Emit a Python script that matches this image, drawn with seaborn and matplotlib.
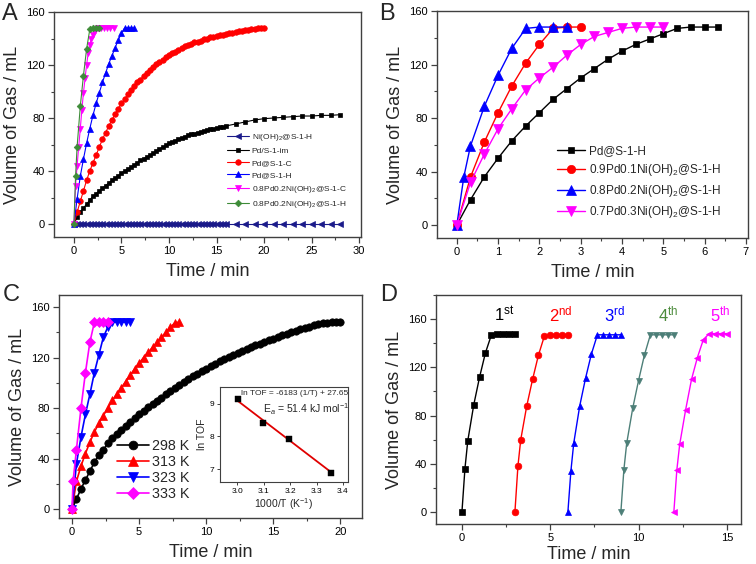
import numpy as np
import matplotlib
matplotlib.use("Agg")
import matplotlib.pyplot as plt
from matplotlib.ticker import MultipleLocator, AutoMinorLocator
import seaborn as sns

# ---------------- data ----------------
# panel A
a_im_t = np.r_[np.arange(49) / 3, np.arange(17, 29)]
a_im_v = [0, 5, 9, 12, 15, 18, 21, 23, 25, 27, 29, 31, 33, 34.7, 36.5, 38.5, 40,
          41.5, 43, 44.7, 46.3, 48, 49.3, 50.7, 52, 53.5, 55, 56.5, 57.8, 59.3, 61,
          62, 63, 64, 65, 66, 67, 67.7, 68.3, 69, 69.7, 70.3, 71, 71.5, 72, 72.5, 73,
          73.5, 74, 75.5, 77, 78.5, 79.5, 80, 80.5, 81, 81.5, 81.5, 82, 82, 82.5]
a_ni_v = [0.0] * len(a_im_t)
a_c_t = np.arange(61) / 3
a_c_v = [0, 9, 17, 25, 33, 40, 46, 52, 58, 64, 69, 74, 78.5, 83, 87, 91, 94, 98,
         101, 104, 107, 109, 112, 114, 116.5, 118.5, 120.5, 122.5, 124, 126, 127.5,
         129, 130, 131.5, 132.5, 134, 135, 136, 137, 137.5, 138.5, 139.5, 140, 141,
         141.5, 142, 142.5, 143, 143.5, 144, 144.5, 145, 145.5, 146, 146.2, 146.6,
         147, 147.5, 148, 148, 148]
a_h_t = np.arange(20) / 3
a_h_v = [0, 19, 36, 49, 61, 72, 82, 91, 99, 107, 114, 121, 127, 133, 139, 144,
         148, 148, 148, 148]
a_pnc_t = [0, 0.17, 0.33, 0.5, 0.67, 0.83, 1.0, 1.17, 1.33, 1.5, 1.67, 1.83, 2.0,
           2.17, 2.5, 2.83, 3.17, 3.5, 3.83, 4.17]
a_pnc_v = [0, 29, 44, 58, 72, 86, 99, 110, 120, 129, 135, 140, 143, 146, 148, 148,
           148, 148, 148, 148]
a_pnh_t = [0, 0.17, 0.33, 0.67, 1.0, 1.33, 1.67, 2.0, 2.33, 2.67]
a_pnh_v = [0, 36, 58, 89, 112, 132, 147, 148, 148, 148]
a_labels = ["Ni(OH)$_2$@S-1-H", "Pd/S-1-im", "Pd@S-1-C", "Pd@S-1-H",
            "0.8Pd0.2Ni(OH)$_2$@S-1-C", "0.8Pd0.2Ni(OH)$_2$@S-1-H"]

# panel B
b_pd_t = np.arange(20) / 3
b_pd_v = [0, 19, 36, 50, 63, 74, 84, 94, 102, 110, 117, 124, 130, 135, 139, 143,
          147, 148, 148, 148]
b_91_t = np.arange(10) / 3
b_91_v = [0, 36, 62, 84, 104, 121, 135, 147, 148, 148]
b_82_t = [0, 0.17, 0.33, 0.67, 1.0, 1.33, 1.67, 2.0, 2.33, 2.67]
b_82_v = [0, 36, 59, 89, 112, 132, 147, 148, 148, 148]
b_73_t = np.arange(16) / 3
b_73_v = [0, 32, 53, 72, 87, 101, 110, 118, 127, 135, 141, 144, 147, 148, 148, 148]
b_labels = ["Pd@S-1-H", "0.9Pd0.1Ni(OH)$_2$@S-1-H", "0.8Pd0.2Ni(OH)$_2$@S-1-H",
            "0.7Pd0.3Ni(OH)$_2$@S-1-H"]

# panel C
c_298_t = np.arange(61) / 3
c_298_v = [0, 8, 16, 23, 30, 37, 43, 47, 52, 56, 59.5, 63, 66, 69, 72, 75, 78,
           80.5, 83, 85.7, 88.3, 91, 93.3, 95.7, 98, 100.3, 102.7, 105, 107, 109,
           111, 113, 115, 117, 118.7, 120.3, 122, 123.7, 125.3, 127, 128.3, 129.7,
           131, 132.3, 133.7, 135, 136.3, 137.7, 139, 140.2, 141.3, 142.5, 143.5,
           144.5, 145.5, 146.3, 147, 147.7, 148, 148, 148]
c_313_t = np.arange(25) / 3
c_313_v = [0, 22, 34, 44, 53, 61, 68, 74, 80, 86, 91, 96, 101, 106, 111, 115.5,
           120, 124, 128, 132, 136, 140, 144, 147.5, 148]
c_323_t = np.arange(14) / 3
c_323_v = [0, 36, 57, 75, 91, 108, 122, 136, 144, 148, 148, 148, 148, 148]
c_333_t = [0, 0.08, 0.33, 0.67, 1.0, 1.33, 1.67, 2.0, 2.33, 2.67]
c_333_v = [0, 22, 47, 80, 108, 132, 148, 148, 148, 148]
c_labels = ["298 K", "313 K", "323 K", "333 K"]
inv_t = [3.003, 3.096, 3.196, 3.356]
ln_tof = [9.14, 8.41, 7.93, 6.89]
fit_x = [3.0, 3.36]
fit_y = [9.10, 6.88]

# panel D (recycling runs)
d_t = [[0, 0.17, 0.33, 0.67, 1.0, 1.33, 1.67, 2.0, 2.33, 2.67, 3.0],
       [3.0, 3.17, 3.33, 3.67, 4.0, 4.33, 4.67, 5.0, 5.33, 5.67, 6.0],
       [6.0, 6.17, 6.33, 6.67, 7.0, 7.33, 7.67, 8.0, 8.33, 8.67, 9.0],
       [9.0, 9.17, 9.33, 9.67, 10.0, 10.33, 10.67, 11.0, 11.33, 11.67, 12.0],
       [12.0, 12.17, 12.33, 12.67, 13.0, 13.33, 13.67, 14.0, 14.33, 14.67, 15.0]]
d_v = [[0, 36, 59, 89, 112, 132, 147, 148, 148, 148, 148],
       [0, 38, 60, 88, 110, 130, 146, 147, 147, 147, 147],
       [0, 34, 57, 88, 111, 131, 147, 147, 147, 147, 147],
       [0, 35, 57, 86, 109, 130, 147, 147, 147, 147, 147],
       [0, 35, 56, 85, 110, 128, 143, 148, 148, 148, 148]]
d_labels = ["1", "2", "3", "4", "5"]
d_sup = ["st", "nd", "rd", "th", "th"]
d_label_x = [2.4, 5.6, 8.65, 11.65, 14.6]

# ---------------- style ----------------
sns.set_style("ticks")
plt.rcParams["font.family"] = ["Liberation Sans", "DejaVu Sans"]
plt.rcParams["mathtext.fontset"] = "custom"
plt.rcParams["mathtext.rm"] = "Liberation Sans"
plt.rcParams["mathtext.it"] = "Liberation Sans:italic"
plt.rcParams["axes.edgecolor"] = "#404040"
plt.rcParams["axes.linewidth"] = 1.0
plt.rcParams["xtick.color"] = "#404040"
plt.rcParams["ytick.color"] = "#404040"
plt.rcParams["xtick.labelcolor"] = "black"
plt.rcParams["ytick.labelcolor"] = "black"

fig = plt.figure(figsize=(7.56, 5.64), dpi=100)
axA = fig.add_axes([0.0714, 0.5798, 0.4061, 0.3989])
axB = fig.add_axes([0.578, 0.578, 0.4114, 0.4025])
axC = fig.add_axes([0.078, 0.0816, 0.4008, 0.3954])
axD = fig.add_axes([0.5767, 0.0709, 0.4034, 0.406])


def draw(ax, t, v, color, marker, ms, lw, label=None):
    sns.lineplot(x=list(t), y=list(v), ax=ax, color=color, marker=marker,
                 markersize=ms, markeredgecolor=color, markerfacecolor=color,
                 markeredgewidth=0.5, linewidth=lw, label=label,
                 estimator=None, sort=False)


def style_axes(ax, xmaj, ymaj, xlim, ylim, xpad=5):
    ax.set_xlim(*xlim)
    ax.set_ylim(*ylim)
    ax.xaxis.set_major_locator(MultipleLocator(xmaj))
    ax.yaxis.set_major_locator(MultipleLocator(ymaj))
    ax.xaxis.set_minor_locator(AutoMinorLocator(2))
    ax.yaxis.set_minor_locator(AutoMinorLocator(2))
    ax.tick_params(which="major", length=4, width=0.9, labelsize=8, pad=2.5)
    ax.tick_params(which="minor", length=2.2, width=0.8)
    for s in ax.spines.values():
        s.set_visible(True)
    ax.set_xlabel("Time / min", fontsize=13, labelpad=xpad)
    ax.set_ylabel("Volume of Gas / mL", fontsize=13, labelpad=4)


# ---------------- panel A ----------------
draw(axA, a_im_t, a_ni_v, "#1a1a8a", "<", 4.0, 0.8, a_labels[0])
draw(axA, a_im_t, a_im_v, "black", "s", 3.4, 0.8, a_labels[1])
draw(axA, a_c_t, a_c_v, "#ff0000", "o", 4.0, 0.8, a_labels[2])
draw(axA, a_h_t, a_h_v, "#0000ff", "^", 4.4, 0.8, a_labels[3])
draw(axA, a_pnc_t, a_pnc_v, "#ff00ff", "v", 4.4, 0.8, a_labels[4])
draw(axA, a_pnh_t, a_pnh_v, "#3d8b37", "D", 3.4, 0.8, a_labels[5])
style_axes(axA, 5, 40, (-2.1, 30.2), (-9.8, 160))
axA.legend(loc="upper left", bbox_to_anchor=(0.565, 0.465), frameon=False,
           fontsize=6, handlelength=2.6, handletextpad=0.3, labelspacing=0.5,
           borderpad=0, borderaxespad=0)

# ---------------- panel B ----------------
draw(axB, b_pd_t, b_pd_v, "black", "s", 5.0, 1.0, b_labels[0])
draw(axB, b_91_t, b_91_v, "#ff0000", "o", 6.0, 1.0, b_labels[1])
draw(axB, b_82_t, b_82_v, "#0000ff", "^", 6.5, 1.0, b_labels[2])
draw(axB, b_73_t, b_73_v, "#ff00ff", "v", 6.5, 1.0, b_labels[3])
style_axes(axB, 1, 40, (-0.48, 7.05), (-9.7, 160))
axB.legend(loc="upper left", bbox_to_anchor=(0.385, 0.41), frameon=False,
           fontsize=8.5, handlelength=2.4, handletextpad=0.3, labelspacing=0.42,
           borderpad=0, borderaxespad=0)

# ---------------- panel C ----------------
draw(axC, c_298_t, c_298_v, "black", "o", 5.3, 1.2, c_labels[0])
draw(axC, c_313_t, c_313_v, "#ff0000", "^", 5.5, 1.2, c_labels[1])
draw(axC, c_323_t, c_323_v, "#0000ff", "v", 6.0, 1.2, c_labels[2])
draw(axC, c_333_t, c_333_v, "#ff00ff", "D", 5.0, 1.2, c_labels[3])
style_axes(axC, 5, 40, (-0.97, 21.6), (-7, 169.5))
axC.legend(loc="upper left", bbox_to_anchor=(0.19, 0.355), frameon=False,
           fontsize=10.3, handlelength=2.3, handletextpad=0.2, labelspacing=0.15,
           borderpad=0, borderaxespad=0, markerscale=1.2)

axI = fig.add_axes([0.291, 0.1454, 0.1693, 0.1684])
sns.lineplot(x=fit_x, y=fit_y, ax=axI, color="#e00000", linewidth=1.3,
             estimator=None, sort=False)
sns.scatterplot(x=inv_t, y=ln_tof, ax=axI, color="black", marker="s", s=14,
                edgecolor="black", linewidth=0.3, zorder=3)
axI.set_xlim(2.935, 3.419)
axI.set_ylim(6.61, 9.51)
axI.xaxis.set_major_locator(MultipleLocator(0.1))
axI.yaxis.set_major_locator(MultipleLocator(1))
axI.xaxis.set_major_formatter(plt.FormatStrFormatter("%.1f"))
axI.tick_params(length=2.5, width=0.7, labelsize=6, pad=1.5)
for s in axI.spines.values():
    s.set_visible(True)
    s.set_linewidth(0.8)
axI.set_xlabel("1000/T (K$^{-1}$)", fontsize=7.5, labelpad=1)
axI.set_ylabel("ln TOF", fontsize=7.5, labelpad=2)
axI.text(3.013, 9.3, "ln TOF = -6183 (1/T) + 27.65", fontsize=6, va="center")
axI.text(3.097, 8.84, "E$_a$ = 51.4 kJ mol$^{-1}$", fontsize=7.5, va="center")

# ---------------- panel D ----------------
d_colors = ["black", "#ff0000", "#0000ff", "#4d7f78", "#ff00ff"]
d_text_colors = ["black", "#ff0000", "#0000ff", "#4b8b3b", "#ff00ff"]
d_markers = ["s", "o", "^", "v", "<"]
for i in range(5):
    draw(axD, d_t[i], d_v[i], d_colors[i], d_markers[i], 4.8, 1.0)
    axD.text(d_label_x[i], 158, d_labels[i] + "$^{\\mathrm{" + d_sup[i] + "}}$",
             color=d_text_colors[i], fontsize=12, ha="center", va="baseline")
style_axes(axD, 5, 40, (-1.47, 15.8), (-10, 180), xpad=2)
if axD.get_legend() is not None:
    axD.get_legend().remove()

# panel letters
for letter, (x, y) in zip("ABCD", [(0.003, 0.995), (0.502, 0.995),
                                     (0.003, 0.496), (0.503, 0.496)]):
    fig.text(x, y, letter, fontsize=17, ha="left", va="top")

fig.savefig("out.png", dpi=100)
